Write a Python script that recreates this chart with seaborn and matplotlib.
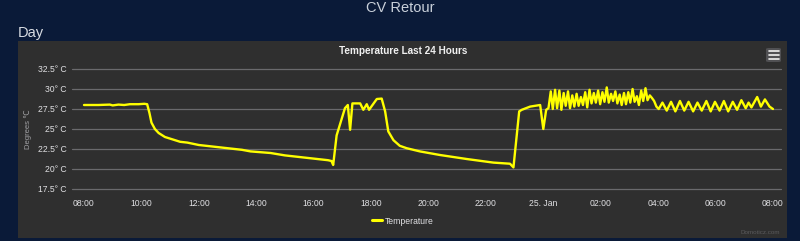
import matplotlib
matplotlib.use("Agg")
import matplotlib.pyplot as plt
import seaborn as sns
import pandas as pd
from matplotlib.patches import Rectangle, FancyBboxPatch
from matplotlib.lines import Line2D

# ---- data (hours since 08:00 on day 1, temperature in °C) ----
hours = [
    0.0, 0.5, 0.9, 1.0, 1.2, 1.4, 1.6, 1.9, 2.1, 2.2,
    2.28, 2.35, 2.47, 2.6, 2.82, 3.0, 3.35, 3.6, 4.0, 4.5, 5.0, 5.5, 5.8, 6.5,
    7.0, 7.5, 8.0, 8.5, 8.62, 8.68,
    8.8, 9.09, 9.19, 9.27, 9.35, 9.62, 9.73, 9.85, 9.93, 10.2, 10.37,
    10.49, 10.6, 10.78, 11.0, 11.24, 11.7, 12.4, 13.33, 14.26, 14.84, 14.96,
    15.16, 15.25, 15.54, 15.89, 16.0, 16.1,
    16.18, 16.26, 16.33, 16.41, 16.48, 16.56, 16.63, 16.71, 16.78, 16.86,
    16.93, 17.01, 17.08, 17.16, 17.23, 17.31, 17.38, 17.46, 17.53, 17.61,
    17.68, 17.76, 17.83, 17.91, 17.98, 18.06, 18.13, 18.21, 18.28, 18.36,
    18.43, 18.51, 18.58, 18.66, 18.73, 18.81, 18.88, 18.96, 19.03, 19.11,
    19.18, 19.26, 19.33, 19.41, 19.48, 19.56, 19.63, 19.71, 19.78, 19.86,
    19.94, 20.02,
    20.15, 20.30, 20.45, 20.60, 20.76, 20.91, 21.06, 21.22, 21.37, 21.52,
    21.68, 21.83, 21.98, 22.14, 22.29, 22.44, 22.60, 22.75, 22.90, 23.05,
    23.15, 23.25, 23.45, 23.58, 23.72, 23.88, 24.0,
]
temps = [
    28.0, 28.0, 28.05, 27.95, 28.05, 28.0, 28.1, 28.1, 28.15, 28.1,
    27.0, 25.8, 25.0, 24.5, 24.0, 23.8, 23.4, 23.3, 23.0, 22.8, 22.6, 22.4, 22.2, 22.0,
    21.7, 21.5, 21.3, 21.1, 21.0, 20.5,
    24.2, 27.6, 28.0, 24.9, 28.2, 28.2, 27.4, 28.1, 27.4, 28.75, 28.8,
    27.2, 24.7, 23.6, 22.9, 22.6, 22.2, 21.75, 21.25, 20.8, 20.66, 20.2,
    27.2, 27.4, 27.8, 28.0, 25.0, 27.4,
    27.6, 29.7, 27.5, 29.9, 27.6, 29.8, 27.4, 29.5, 27.9, 29.7,
    27.6, 29.2, 27.8, 29.4, 27.9, 29.0, 28.0, 29.6, 27.7, 29.9,
    28.2, 29.5, 28.3, 29.8, 28.1, 29.6, 28.4, 30.2, 28.3, 29.4,
    28.5, 29.7, 28.2, 29.3, 28.0, 29.5, 28.1, 29.6, 28.3, 30.0,
    28.4, 29.1, 28.0, 29.8, 28.5, 30.1, 28.6, 29.2, 28.9, 28.5,
    27.8, 27.5,
    28.3, 27.3, 28.4, 27.2, 28.5, 27.3, 28.4, 27.2, 28.3, 27.3,
    28.5, 27.2, 28.4, 27.3, 28.5, 27.2, 28.4, 27.4, 28.6, 27.6,
    28.3, 27.7, 29.0, 27.8, 28.7, 27.8, 27.5,
]
x_ticks = [0, 2, 4, 6, 8, 10, 12, 14, 16, 18, 20, 22, 24]
x_tick_labels = ["08:00", "10:00", "12:00", "14:00", "16:00", "18:00", "20:00",
                 "22:00", "25. Jan", "02:00", "04:00", "06:00", "08:00"]
y_ticks = [17.5, 20, 22.5, 25, 27.5, 30, 32.5]
y_tick_labels = ["17.5° C", "20° C", "22.5° C", "25° C", "27.5° C", "30° C", "32.5° C"]
series_name = "Temperature"

# ---- style ----
NAVY = "#0a1a38"
PANEL = "#2f2f2f"
GRID = "#6a6a6d"
TXT = "#e0e0e3"

sns.set_style("dark")
plt.rcParams["font.family"] = ["Liberation Sans", "DejaVu Sans"]

W, H = 800, 241
fig = plt.figure(figsize=(8, 2.41), dpi=100)
fig.patch.set_facecolor(NAVY)

fig.add_artist(Rectangle((18 / W, 3 / H), 769 / W, 197 / H, transform=fig.transFigure,
                         facecolor=PANEL, edgecolor="none", zorder=0))

ax = fig.add_axes([72 / W, 52 / H, 709 / W, 120 / H])
ax.set_facecolor("none")

df = pd.DataFrame({"hour": hours, "temp": temps})
sns.lineplot(data=df, x="hour", y="temp", ax=ax, color="#ffff00", linewidth=1.7,
             legend=False, zorder=3, solid_joinstyle="round", solid_capstyle="round")

ax.set_xlim(-0.418, 24.28)
ax.set_ylim(17.5, 32.5)
ax.set_xticks(x_ticks)
ax.set_xticklabels(x_tick_labels)
ax.set_yticks(y_ticks)
ax.set_yticklabels(y_tick_labels)
ax.set_xlabel("")
ax.set_ylabel("Degrees ℃", color="#a0a0a3", fontsize=5.5, labelpad=4)
ax.grid(False)
for yv in y_ticks:
    ax.axhline(yv, color=GRID, linewidth=0.9, zorder=1, clip_on=False)
for s in ax.spines.values():
    s.set_visible(False)
ax.tick_params(axis="x", length=5, width=0.8, color=GRID, direction="out",
               labelsize=6.2, labelcolor=TXT, pad=2)
ax.tick_params(axis="y", length=0, labelsize=6.2, labelcolor=TXT, pad=4)

# titles
fig.text(0.5, 1 - 8 / H, "CV Retour", ha="center", va="center", fontsize=10.5, color="#c9d0da")
fig.text(18 / W, 1 - 33 / H, "Day", ha="left", va="center", fontsize=10.5, color="#d8dce2")
fig.text(403 / W, 1 - 51 / H, "Temperature Last 24 Hours", ha="center", va="center",
         fontsize=7.2, fontweight="bold", color="#f0f0f0")

# legend
handle = Line2D([], [], color="#ffff00", linewidth=2.2)
fig.legend([handle], [series_name], loc="center", bbox_to_anchor=(403 / W, 20 / H),
           frameon=False, fontsize=6.2, labelcolor=TXT, handlelength=1.1, handletextpad=0.4)

# credits
fig.text(780 / W, 1 - 233 / H, "Domoticz.com", ha="right", va="center", fontsize=4.5, color="#5a5a5c")

# export menu icon
fig.add_artist(FancyBboxPatch((766 / W, 1 - 62 / H), 15 / W, 14 / H, boxstyle="round,pad=0.0,rounding_size=0.004",
                              transform=fig.transFigure, facecolor="#505053", edgecolor="none"))
for yy in (51, 55, 59):
    fig.add_artist(Line2D([768.5 / W, 778.5 / W], [1 - yy / H, 1 - yy / H], transform=fig.transFigure,
                          color="#f0f0f0", linewidth=1.2))

fig.savefig("out.png", dpi=100, facecolor=NAVY)
